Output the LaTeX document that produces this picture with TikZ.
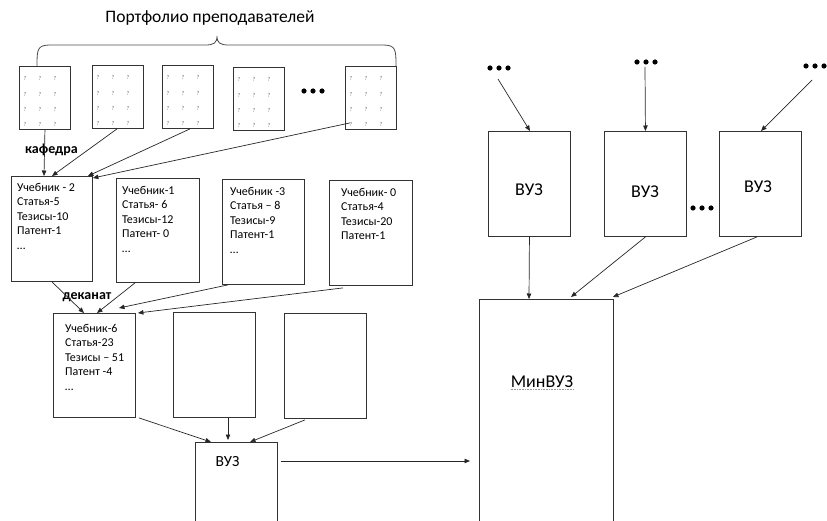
\documentclass[tikz,border=0pt]{standalone}
\usepackage{fontspec}
\setmainfont{Carlito}
\usetikzlibrary{arrows.meta,calc}

\begin{document}
\begin{tikzpicture}[x=1pt,y=-1pt,
  box/.style={draw=black!80, line width=0.9pt, inner sep=0pt, anchor=north west},
  conn/.style={draw=black!85, line width=0.7pt, -{Triangle[length=5.5pt,width=4.5pt]}},
  plain/.style={draw=black!70, line width=0.8pt},
  list/.style={anchor=north west, inner sep=0pt, align=left, font=\fontsize{12}{14.5}\selectfont},
  qmark/.style={font=\fontsize{6}{6}\selectfont, text=black!55, inner sep=0pt},
  tag/.style={font=\bfseries\fontsize{14}{14}\selectfont, inner sep=0pt, anchor=base},
  caption/.style={inner sep=0pt, anchor=base},
  dotsgroup/.style={inner sep=0pt, minimum width=26pt, minimum height=6pt,
    path picture={\foreach \k in {-9,0,9}
      \fill[black] ([xshift=\k pt]path picture bounding box.center) circle (2.6pt);}},
]
\clip (0,0) rectangle (827,521);

% title and brace over the teachers' portfolios
\node[caption, font=\fontsize{17.5}{17.5}\selectfont] (title) at (210,23) {Портфолио преподавателей};
\draw[plain] (37,66) .. controls (37,50) and (37,45) .. (50,45) -- (205,45)
  .. controls (214,45) and (217,43) .. (217,36)
  .. controls (217,43) and (220,45) .. (229,45) -- (383,45)
  .. controls (396,45) and (396,50) .. (396,66);

% portfolio sheets
\foreach \n/\x/\y in {1/19/66, 2/92/65, 3/162/65, 4/233/67, 5/345/66} {
  \node[box, minimum width=51pt, minimum height=63pt] (p\n) at (\x,\y) {};
  \foreach \c in {6,21,36} \foreach \r in {12,28,43,58}
    \node[qmark] (q\n-\c-\r) at ([xshift=\c pt, yshift=-\r pt]p\n.north west) {?};
}
\node[dotsgroup] (dp) at (313,91) {};

% department level
\node[box, minimum width=81pt, minimum height=105pt] (ka) at (11,176) {};
\node[box, minimum width=83pt, minimum height=104pt] (kb) at (116,178) {};
\node[box, minimum width=82pt, minimum height=105pt] (kc) at (222,179) {};
\node[box, minimum width=83pt, minimum height=105pt] (kd) at (329,180) {};
\node[list] (ta) at (17,183) {Учебник - 2\\Статья-5\\Тезисы-10\\Патент-1\\…};
\node[list] (tb) at (122,186) {Учебник-1\\Статья- 6\\Тезисы-12\\Патент- 0\\…};
\node[list] (tc) at (230,187) {Учебник -3\\Статья – 8\\Тезисы-9\\Патент-1\\…};
\node[list] (td) at (341,188) {Учебник- 0\\Статья-4\\Тезисы-20\\Патент-1};
\node[tag] (kaf) at (51.5,154) {кафедра};

\draw[conn] (p1.south) -- ([xshift=33pt]ka.north west);
\draw[conn] ([xshift=25pt]p2.south west) -- ([xshift=41pt]ka.north west);
\draw[conn] ([xshift=28pt]p3.south west) -- ([xshift=-5pt]ka.north east);
\draw[conn] ([xshift=5pt,yshift=7pt]p5.south west) -- ([yshift=-2pt]ka.north east);

% faculty level
\node[box, minimum width=82pt, minimum height=104pt] (fa) at (53,313) {};
\node[box, minimum width=82pt, minimum height=105pt] (fb) at (173,312) {};
\node[box, minimum width=82pt, minimum height=105pt] (fc) at (284,313) {};
\node[list] (tf) at (65,324) {Учебник-6\\Статья-23\\Тезисы – 51\\Патент -4\\…};
\node[tag] (dek) at (87,299) {деканат};

\draw[conn] ([xshift=41pt]ka.south west) -- ([xshift=31pt]fa.north west);
\draw[conn] ([xshift=19pt]kb.south west) -- ([xshift=44pt]fa.north west);
\draw[conn] ([xshift=6pt]kc.south west) -- ([xshift=66pt,yshift=5pt]fa.north west);
\draw[conn] ([xshift=14pt,yshift=-2pt]kd.south west) -- ([xshift=2pt]fa.north east);

% university
\node[box, minimum width=82pt, minimum height=90pt] (vz) at (195,442) {};
\node[caption, font=\fontsize{15.5}{15.5}\selectfont] (tvz) at (227.5,466) {ВУЗ};

\draw[conn] ([xshift=3pt]fa.south east) -- ([xshift=16pt]vz.north west);
\draw[conn] ([xshift=55pt]fb.south west) -- ([xshift=33pt,yshift=2pt]vz.north west);
\draw[conn] ([xshift=21pt,yshift=-1pt]fc.south west) -- ([xshift=55pt]vz.north west);

% ministry
\node[box, minimum width=134pt, minimum height=240pt] (mv) at (479,299) {};
\node[caption, font=\fontsize{18}{18}\selectfont] (tmv) at (542,387) {МинВУЗ};
\draw[black!40, line width=0.6pt, densely dotted] ([yshift=-2.5pt]tmv.base west) -- ([yshift=-2.5pt]tmv.base east);

\draw[conn] ([xshift=3pt,yshift=-19pt]vz.north east) -- ([xshift=-9pt,yshift=-162pt]mv.north west);

% other universities
\node[box, minimum width=82pt, minimum height=105pt] (v1) at (488,131) {};
\node[box, minimum width=82pt, minimum height=105pt] (v2) at (604,131) {};
\node[box, minimum width=82pt, minimum height=105pt] (v3) at (719,131) {};
\node[caption, font=\fontsize{18}{18}\selectfont] (t1) at (529,196) {ВУЗ};
\node[caption, font=\fontsize{18}{18}\selectfont] (t2) at (645,198) {ВУЗ};
\node[caption, font=\fontsize{18}{18}\selectfont] (t3) at (758,193) {ВУЗ};
\node[dotsgroup] (dm) at (702,208) {};

\node[dotsgroup] (d1) at (499,68) {};
\node[dotsgroup] (d2) at (646,62) {};
\node[dotsgroup] (d3) at (815,66) {};

\draw[conn] ([xshift=-1pt,yshift=-11pt]d1.center) -- ([xshift=42pt]v1.north west);
\draw[conn] ([xshift=-1pt,yshift=-5pt]d2.center) -- (v2.north);
\draw[conn] ([xshift=-3pt,yshift=-14pt]d3.center) -- ([xshift=42pt]v3.north west);

\draw[conn] (v1.south) -- ([xshift=50pt]mv.north west);
\draw[conn] (v2.south) -- ([xshift=92pt,yshift=2pt]mv.north west);
\draw[conn] ([xshift=38pt]v3.south west) -- ([xshift=-1pt,yshift=2pt]mv.north east);
\end{tikzpicture}
\end{document}
